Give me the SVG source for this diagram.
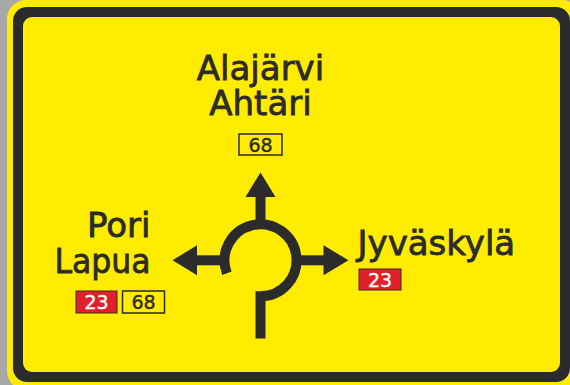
<svg xmlns="http://www.w3.org/2000/svg" width="570" height="385" viewBox="0 0 570 385">
  <defs>
    <style>
      .lbl { font-family: "DejaVu Sans", "Liberation Sans", sans-serif; font-size: 34px; fill: #2b2b2b; stroke: #2b2b2b; stroke-width: 0.8; }
      .num { font-family: "DejaVu Sans", "Liberation Sans", sans-serif; font-size: 19px; text-anchor: middle; stroke-width: 0.4; }
      .ys { fill: #ffec00; stroke: #2b2b2b; stroke-width: 1.5; }
      .rs { fill: #e2202a; stroke: #3a2a1a; stroke-width: 1; }
      .ink { fill: none; stroke: #2b2b2b; stroke-width: 10; stroke-linejoin: miter; }
      .head { fill: #2b2b2b; }
    </style>
  </defs>
  <rect x="0" y="0" width="570" height="385" fill="#a8a8a8"/>
  <g id="sign">
    <rect x="7" y="0" width="574" height="390" rx="19" fill="#ffec00"/>
    <rect x="13" y="7" width="557" height="375" rx="14" fill="#2b2b2b"/>
    <rect x="23" y="17" width="537" height="355" rx="9" fill="#ffec00"/>
  </g>
  <g id="north">
    <text class="lbl" x="260.5" y="80" text-anchor="middle">Alajärvi</text>
    <text class="lbl" x="260.5" y="115" text-anchor="middle">Ahtäri</text>
    <rect class="ys" x="239" y="134" width="43" height="21"/>
    <text class="num" x="260.5" y="152" fill="#2b2b2b" stroke="#2b2b2b">68</text>
  </g>
  <g id="west">
    <text class="lbl" x="150.5" y="237" text-anchor="end">Pori</text>
    <text class="lbl" x="150.5" y="273" text-anchor="end" textLength="96" lengthAdjust="spacingAndGlyphs">Lapua</text>
    <rect class="rs" x="76" y="291" width="41" height="22"/>
    <text class="num" x="96.5" y="309" fill="#ffffff" stroke="#ffffff">23</text>
    <rect class="ys" x="122.5" y="291" width="42" height="22"/>
    <text class="num" x="143.5" y="309" fill="#2b2b2b" stroke="#2b2b2b">68</text>
  </g>
  <g id="east">
    <text class="lbl" x="357.5" y="255">Jyväskylä</text>
    <rect class="rs" x="359" y="269" width="42" height="21"/>
    <text class="num" x="380" y="286.5" fill="#ffffff" stroke="#ffffff">23</text>
  </g>
  <g id="roundabout">
    <path class="ink" d="M226.9 273.2 A36 36 0 1 1 260.5 296.3 L260.5 338.5"/>
  </g>
  <g id="connectors">
    <path class="ink" d="M260.5 225 V196"/>
    <polygon class="head" points="260.5,172.5 245.5,197 275.5,197"/>
    <path class="ink" d="M296 260.3 H324"/>
    <polygon class="head" points="348.5,260.3 323.5,245.3 323.5,275.3"/>
    <path class="ink" d="M225 260.3 H197"/>
    <polygon class="head" points="172.5,260.3 197,245.3 197,275.3"/>
  </g>
</svg>
